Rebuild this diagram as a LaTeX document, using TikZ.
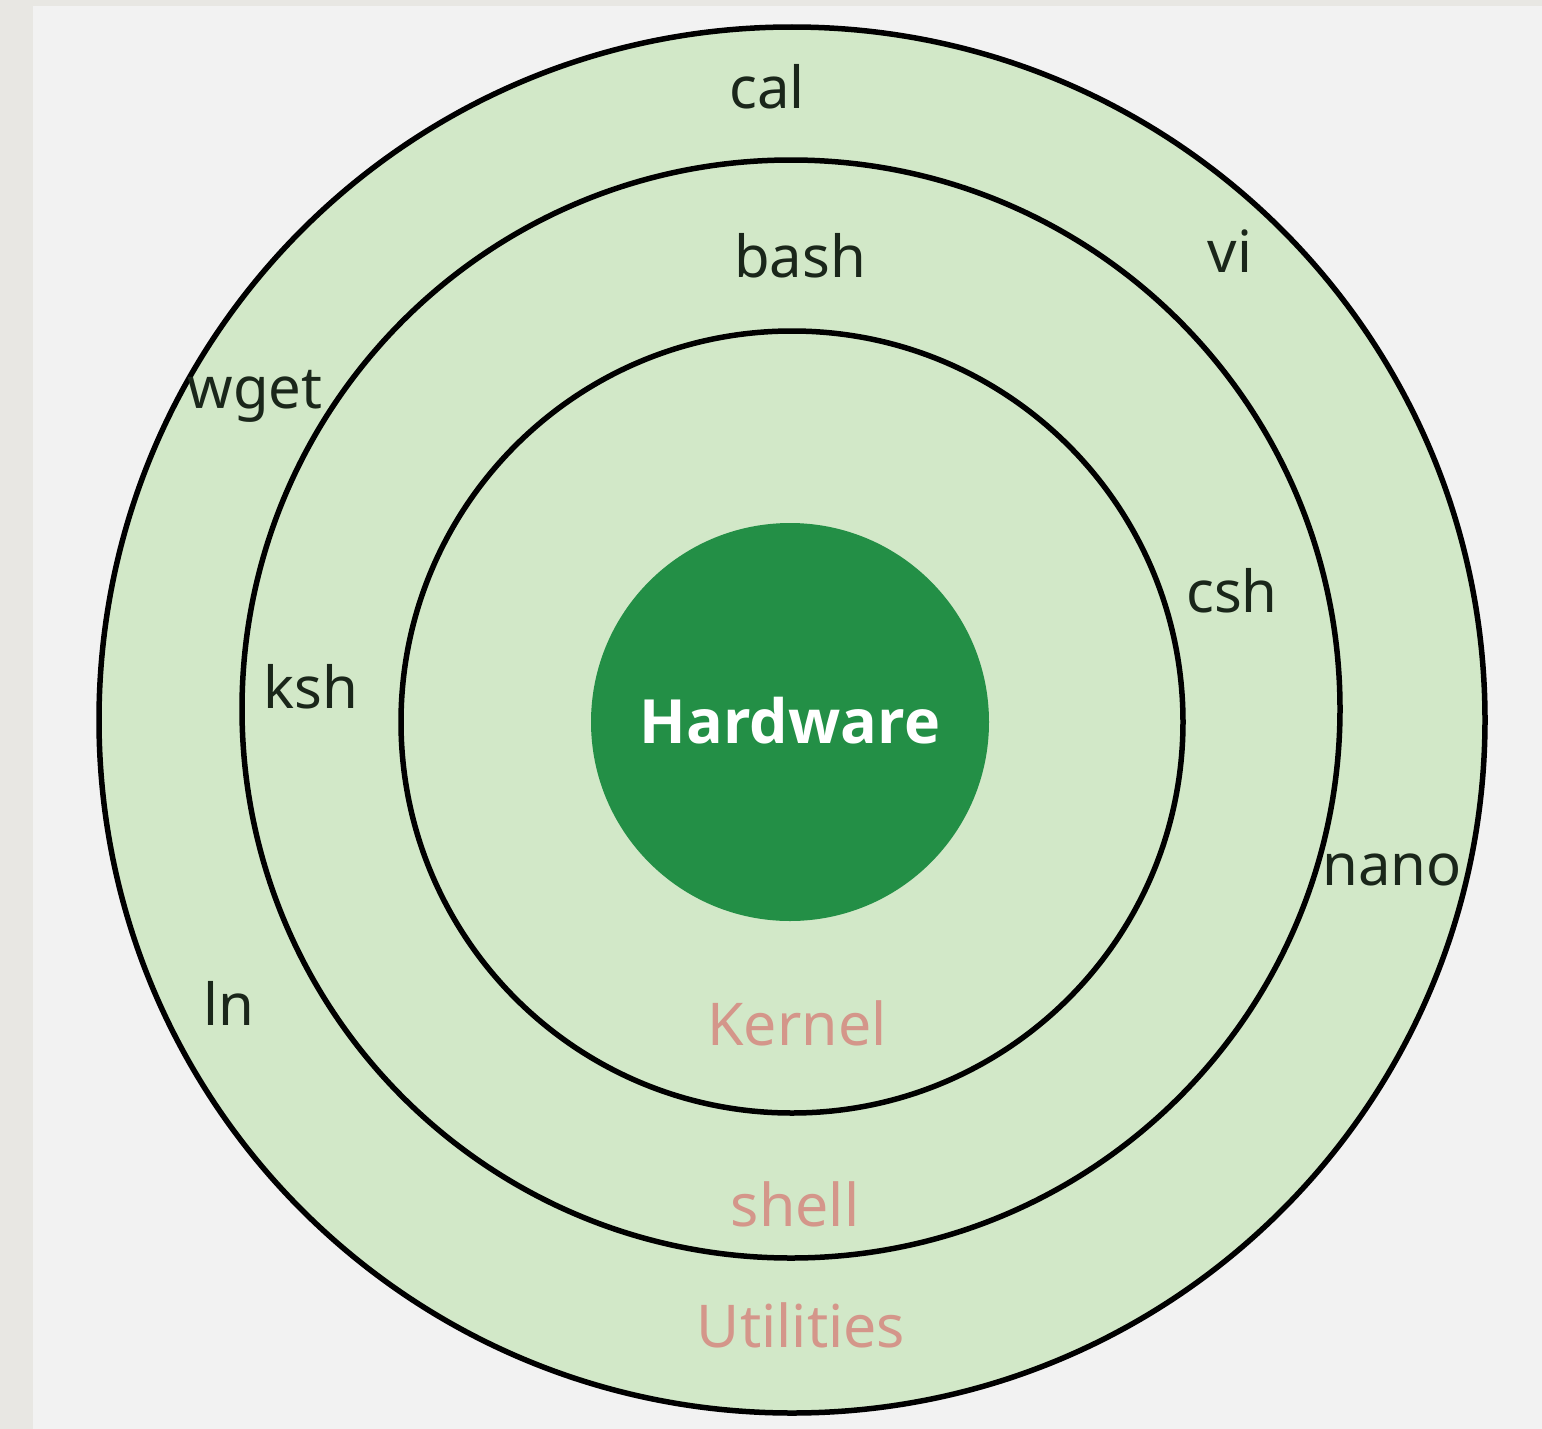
\documentclass[tikz,border=0pt]{standalone}
\usepackage{fontspec}
\setmainfont{Noto Sans}
\newfontfamily\hwfont{Open Sans}
\definecolor{bgstrip}{HTML}{E8E7E3}
\definecolor{bgmain}{HTML}{F2F2F2}
\definecolor{ringfill}{HTML}{D2E8C8}
\definecolor{hwgreen}{HTML}{238F46}
\definecolor{labeldark}{HTML}{1A261A}
\definecolor{labelpink}{HTML}{D4968A}
\tikzset{
  ring/.style={circle, draw=black, line width=5.5pt, fill=ringfill, inner sep=0pt},
  tool/.style={anchor=base, text=labeldark, inner sep=0pt, font=\fontsize{58}{70}\selectfont},
  layer/.style={anchor=base, text=labelpink, inner sep=0pt, font=\fontsize{59}{70}\selectfont},
}
\begin{document}
\begin{tikzpicture}[x=1pt,y=-1pt]
\useasboundingbox (0,0) rectangle (1542,1429);
\fill[bgstrip] (0,0) rectangle (1542,1429);
\fill[bgmain] (33,6) rectangle (1542,1429);
% rings
\node[ring, minimum size=1386pt] (outer) at (792,720) {};
\node[ring, minimum size=1098pt] (middle) at (791,709) {};
\node[ring, minimum size=782pt] (inner) at (792,722) {};
\node[circle, fill=hwgreen, draw=none, minimum size=398pt, inner sep=0pt] (hw) at (790,722) {};
\node[anchor=base, text=white, inner sep=0pt, font=\hwfont\bfseries\fontsize{61}{72}\selectfont] (hwlabel) at (790,743) {Hardware};
% tools
\node[tool] (cal) at (767,108) {cal};
\node[tool] (bash) at (800,277) {bash};
\node[tool] (vi) at (1230,272) {vi};
\node[tool] (wget) at (255,408) {wget};
\node[tool] (ksh) at (311,708) {ksh};
\node[tool] (csh) at (1232,612) {csh};
\node[tool] (nano) at (1392,885) {nano};
\node[tool] (ln) at (229,1025) {ln};
% layers
\node[layer] (kernel) at (797,1045) {Kernel};
\node[layer] (shell) at (795,1226) {shell};
\node[layer] (utils) at (801,1347) {Utilities};
\end{tikzpicture}
\end{document}
